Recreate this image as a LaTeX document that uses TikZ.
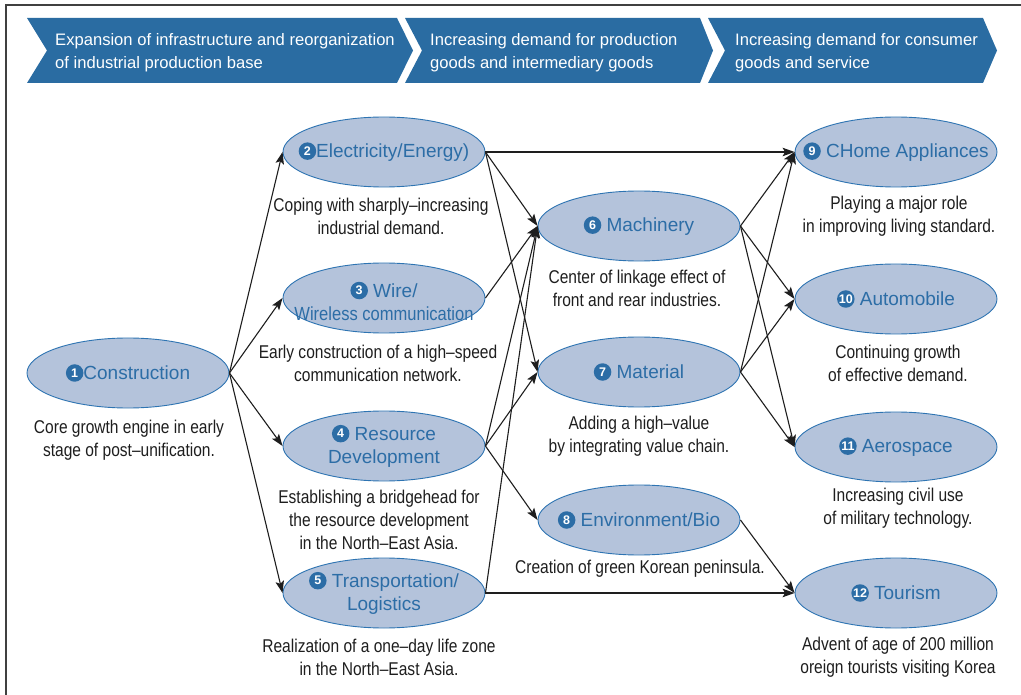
\documentclass[tikz,border=0pt]{standalone}
\usepackage{fontspec}
\setmainfont{Liberation Sans}
\newfontfamily\descfont[FakeStretch=0.84]{Liberation Sans}
\usetikzlibrary{shapes.geometric,arrows.meta}

\definecolor{bandblue}{HTML}{2A6CA2}
\definecolor{ovalfill}{HTML}{B4C3DB}
\definecolor{ovalline}{HTML}{2E74B2}
\definecolor{ovaltext}{HTML}{2C6DA6}
\definecolor{inkgray}{HTML}{1E1E1E}
\definecolor{framegray}{HTML}{404040}

% filled circle with a white number, sitting on the text baseline
\newcommand{\cnum}[1]{\tikz[baseline={([yshift=-2.2pt]c.base)}]\node[circle,fill=ovaltext,text=white,inner sep=0pt,minimum size=17.5pt,font=\fontsize{12.5}{12.5}\selectfont\bfseries](c){#1};}

\tikzset{
  oval/.style={ellipse, draw=ovalline, line width=0.9pt, fill=ovalfill,
    minimum width=202pt, minimum height=70pt, inner sep=0pt},
  ovaltxt/.style={align=center, text=ovaltext, inner sep=0pt,
    font=\fontsize{19}{23}\selectfont},
  note/.style={align=center, text=inkgray, inner sep=0pt,
    font=\descfont\fontsize{18.5}{23}\selectfont},
  band/.style={fill=bandblue, draw=none},
  bandtext/.style={anchor=west, align=left, text=white, inner sep=0pt,
    font=\fontsize{16.6}{23}\selectfont},
  link/.style={draw=inkgray, line width=1.1pt,
    -{Stealth[length=12pt,width=8.5pt,inset=2.5pt]}},
}

\begin{document}
\begin{tikzpicture}[x=1pt,y=-1pt]
\useasboundingbox (0,0) rectangle (1021,695);

% frame
\draw[framegray, line width=1.5pt] (6,695) -- (6,5) -- (1021,5);

% stage bands
\fill[band] (27,18) -- (397,18) -- (413,50.5) -- (397,83) -- (27,83) -- (47,50.5) -- cycle;
\fill[band] (405,18) -- (700,18) -- (713,50.5) -- (700,83) -- (405,83) -- (422,50.5) -- cycle;
\fill[band] (708,18) -- (983,18) -- (997,50.5) -- (983,83) -- (708,83) -- (725,50.5) -- cycle;
\node[bandtext] (h1) at (55,53) {Expansion of infrastructure and reorganization\\of industrial production base};
\node[bandtext] (h2) at (430,53) {Increasing demand for production\\goods and intermediary goods};
\node[bandtext] (h3) at (735,53) {Increasing demand for consumer\\goods and service};

% industry ovals
\node[oval] (n1)  at (128,373) {};
\node[oval] (n2)  at (384,152) {};
\node[oval] (n3)  at (384,298) {};
\node[oval] (n4)  at (384,446) {};
\node[oval] (n5)  at (384,593) {};
\node[oval] (n6)  at (639,226) {};
\node[oval] (n7)  at (639,372) {};
\node[oval] (n8)  at (639,520) {};
\node[oval] (n9)  at (896,152) {};
\node[oval] (n10) at (896,299) {};
\node[oval] (n11) at (896,447) {};
\node[oval] (n12) at (896,593) {};

\node[ovaltxt] (t1)  at (n1)  {\cnum{1}Construction};
\node[ovaltxt] (t2)  at (n2)  {\cnum{2}Electricity/Energy)};
\node[ovaltxt] (t3)  at (384,301) {\cnum{3} Wire/\\\scalebox{0.87}[1]{Wireless communication}};
\node[ovaltxt] (t4)  at (n4)  {\cnum{4} Resource\\Development};
\node[ovaltxt] (t5)  at (n5)  {\cnum{5} Transportation/\\Logistics};
\node[ovaltxt] (t6)  at (n6)  {\cnum{6} Machinery};
\node[ovaltxt] (t7)  at (n7)  {\cnum{7} Material};
\node[ovaltxt] (t8)  at (n8)  {\cnum{8} Environment/Bio};
\node[ovaltxt] (t9)  at (n9)  {\cnum{9} CHome Appliances};
\node[ovaltxt] (t10) at (n10) {\cnum{10} Automobile};
\node[ovaltxt] (t11) at (n11) {\cnum{11} Aerospace};
\node[ovaltxt] (t12) at (n12) {\cnum{12} Tourism};

% descriptions
\node[note] (d1)  at (129,440) {Core growth engine in early\\stage of post–unification.};
\node[note] (d2)  at (381,216) {Coping with sharply–increasing\\industrial demand.};
\node[note] (d3)  at (378,363) {Early construction of a high–speed\\communication network.};
\node[note] (d4)  at (379,520) {Establishing a bridgehead for\\the resource development\\in the North–East Asia.};
\node[note] (d5)  at (379,657) {Realization of a one–day life zone\\in the North–East Asia.};
\node[note] (d6)  at (637,288) {Center of linkage effect of\\front and rear industries.};
\node[note] (d7)  at (639,436) {Adding a high–value\\by integrating value chain.};
\node[note] (d8)  at (640,569) {Creation of green Korean peninsula.};
\node[note] (d9)  at (899,216) {Playing a major role\\in improving living standard.};
\node[note] (d10) at (898,363) {Continuing growth\\of effective demand.};
\node[note] (d11) at (898,508) {Increasing civil use\\of military technology.};
\node[note] (d12) at (898,657) {Advent of age of 200 million\\oreign tourists visiting Korea};

% linkages
\foreach \t in {n2,n3,n4,n5} \draw[link] (n1.east) -- (\t.west);
\draw[link] (n2.east) -- (n9.west);
\draw[link] (n2.east) -- (n6.west);
\draw[link] (n2.east) -- (n7.west);
\draw[link] (n3.east) -- (n6.west);
\draw[link] (n4.east) -- (n6.west);
\draw[link] (n4.east) -- (n7.west);
\draw[link] (n4.east) -- (n8.west);
\draw[link] (n5.east) -- (n6.west);
\draw[link] (n5.east) -- (n12.west);
\foreach \s in {n6,n7} \foreach \t in {n9,n10,n11} \draw[link] (\s.east) -- (\t.west);
\draw[link] (n8.east) -- (n12.west);
\end{tikzpicture}
\end{document}
